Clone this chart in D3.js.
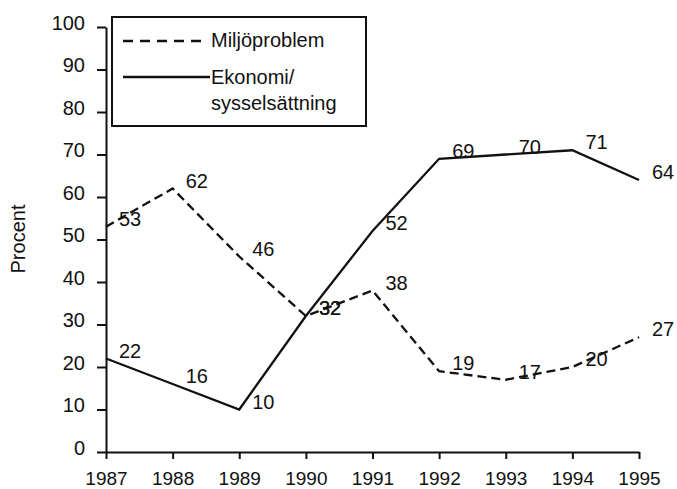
<!DOCTYPE html>
<html>
<head>
<meta charset="utf-8">
<script src="https://cdnjs.cloudflare.com/ajax/libs/d3/7.8.5/d3.min.js"></script>
<style>
  body { margin: 0; background: #fff; }
  text { font-family: "Liberation Sans", Arial, sans-serif; fill: #111; }
</style>
</head>
<body>
<script>
const years = [1987, 1988, 1989, 1990, 1991, 1992, 1993, 1994, 1995]
const miljo = [53, 62, 46, 32, 38, 19, 17, 20, 27]
const ekonomi = [22, 16, 10, 32, 52, 69, 70, 71, 64]
const yTicks = [0, 10, 20, 30, 40, 50, 60, 70, 80, 90, 100]

const w = 677
const h = 489
const fs = '20px'
const ink = '#111'

const svg = d3.select('body')
              .append('svg')
              .attr('width', w)
              .attr('height', h)

const xScale = d3.scaleLinear()
                 .domain([1987, 1995])
                 .range([106, 639])

const yScale = d3.scaleLinear()
                 .domain([0, 100])
                 .range([452, 27])

const xAxis = d3.axisBottom(xScale)
                .tickValues(years)
                .tickFormat(d3.format('d'))
                .tickSize(7)
                .tickSizeOuter(0)
                .tickPadding(13)

const yAxis = d3.axisLeft(yScale)
                .tickValues(yTicks)
                .tickSize(9)
                .tickSizeOuter(0)
                .tickPadding(12)

const gx = svg.append('g')
  .attr('transform', 'translate(0,' + yScale(0) + ')')
  .call(xAxis)

const gy = svg.append('g')
  .attr('transform', 'translate(' + xScale(1987) + ',0)')
  .call(yAxis)

// axis styling
svg.selectAll('.domain, .tick line')
  .attr('stroke', ink)
  .attr('stroke-width', 2)
svg.selectAll('.tick text')
  .style('font-size', fs)
  .attr('fill', ink)
gx.selectAll('.tick text').style('font-size', '19px')
gy.selectAll('.tick text').attr('dy', '0.12em')

svg.append('text')
  .attr('transform', 'translate(25,239) rotate(-90)')
  .attr('text-anchor', 'middle')
  .style('font-size', fs)
  .text('Procent')

// lines
const line = d3.line()
  .x((d, i) => xScale(years[i]))
  .y(d => yScale(d))

svg.append('path')
  .datum(miljo)
  .attr('d', line)
  .attr('fill', 'none')
  .attr('stroke', ink)
  .attr('stroke-width', 2.3)
  .attr('stroke-dasharray', '9,5')

svg.append('path')
  .datum(ekonomi)
  .attr('d', line)
  .attr('fill', 'none')
  .attr('stroke', ink)
  .attr('stroke-width', 2.3)

// value labels
const labels = (vals) => {
  svg.append('g')
    .selectAll('text')
    .data(vals)
    .enter()
    .append('text')
    .attr('x', (d, i) => xScale(years[i]) + 13)
    .attr('y', d => yScale(d) - 1)
    .style('font-size', fs)
    .text(d => d)
}
labels(miljo)
labels(ekonomi)

// legend
const lg = svg.append('g')
lg.append('rect')
  .attr('x', 112)
  .attr('y', 17)
  .attr('width', 254)
  .attr('height', 109)
  .attr('fill', '#fff')
  .attr('stroke', ink)
  .attr('stroke-width', 2)

lg.append('line')
  .attr('x1', 123).attr('x2', 203)
  .attr('y1', 41).attr('y2', 41)
  .attr('stroke', ink)
  .attr('stroke-width', 2.3)
  .attr('stroke-dasharray', '10,7')

lg.append('line')
  .attr('x1', 123).attr('x2', 210)
  .attr('y1', 77).attr('y2', 77)
  .attr('stroke', ink)
  .attr('stroke-width', 2.3)

lg.append('text').attr('x', 211).attr('y', 47).style('font-size', fs).text('Miljöproblem')
lg.append('text').attr('x', 211).attr('y', 84).style('font-size', fs).text('Ekonomi/')
lg.append('text').attr('x', 211).attr('y', 110).style('font-size', fs).text('sysselsättning')
</script>
</body>
</html>
